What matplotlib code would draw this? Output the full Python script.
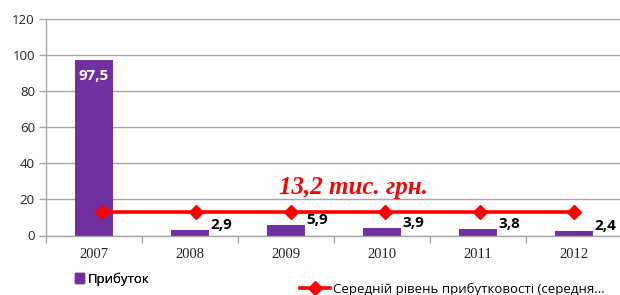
import matplotlib
matplotlib.use("Agg")
import matplotlib.pyplot as plt
from matplotlib.lines import Line2D
from matplotlib.patches import Patch
import numpy as np

years = ["2007", "2008", "2009", "2010", "2011", "2012"]
profit = [97.5, 2.9, 5.9, 3.9, 3.8, 2.4]
profit_labels = ["97,5", "2,9", "5,9", "3,9", "3,8", "2,4"]
average = [13.2, 13.2, 13.2, 13.2, 13.2, 13.2]
avg_text = "13,2 тис. грн."
legend_bar = "Прибуток"
legend_line = "Середній рівень прибутковості (середня…"
yticks = [0, 20, 40, 60, 80, 100, 120]

PURPLE = "#7030A0"
RED = "#FF0000"
GRID = "#A6A6A6"

fig = plt.figure(figsize=(6.2, 2.95), dpi=100)
ax = fig.add_axes([46/620, 1-235.5/295, 576/620, 216.5/295])

x = np.arange(len(years))
ax.bar(x, profit, width=0.39, color=PURPLE, zorder=2)

# line series (secondary-like positioning)
xl = np.linspace(0.083, 5.0, len(years))
ax.plot(xl, average, color=RED, lw=2.6, marker="D", ms=7.5, zorder=3)

ax.set_xlim(-0.5, 5.5)
ax.set_ylim(0, 120)
ax.set_yticks(yticks)
ax.set_yticklabels([str(v) for v in yticks], fontfamily="Open Sans", fontsize=9.5, color="#222222")
ax.set_xticks(x)
ax.set_xticklabels(years, fontfamily="Liberation Serif", fontsize=10.5, color="#222222")
ax.set_xticks(np.arange(-0.5, 6.0, 1.0), minor=True)
ax.tick_params(axis="x", which="major", length=0, pad=9)
ax.tick_params(axis="x", which="minor", length=5, color=GRID, width=1)
ax.tick_params(axis="y", length=5, color=GRID, width=1, pad=3)

ax.grid(axis="y", color=GRID, lw=1, zorder=0)
for s in ["top", "right"]:
    ax.spines[s].set_visible(False)
ax.spines["left"].set_color(GRID)
ax.spines["bottom"].set_color(GRID)
ax.spines["left"].set_linewidth(1)
ax.spines["bottom"].set_linewidth(1)

# data labels
for i, (v, lab) in enumerate(zip(profit, profit_labels)):
    if v > 50:
        ax.text(i, v - 5, lab, ha="center", va="top", color="white",
                fontweight="bold", fontsize=11, fontfamily="Open Sans", zorder=4)
    else:
        ax.text(i + 0.21, v + 0.6, lab, ha="left", va="baseline", color="black",
                fontweight="bold", fontsize=11, fontfamily="Open Sans", zorder=4)

ax.text(2.7, 26.5, avg_text, ha="center", va="center", color=RED,
        fontsize=18, fontweight="bold", fontstyle="italic",
        fontfamily="Liberation Serif", zorder=4)

leg1 = fig.legend(handles=[Patch(color=PURPLE)], labels=[legend_bar],
                  loc="center left", bbox_to_anchor=(63/620, 1-279/295),
                  frameon=False, handlelength=0.7, handleheight=0.7,
                  handletextpad=0.3, prop={"family": "Open Sans", "size": 9.5})
leg2 = fig.legend(handles=[Line2D([], [], color=RED, lw=2.6, marker="D", ms=7.5)],
                  labels=[legend_line],
                  loc="center left", bbox_to_anchor=(288/620, 1-289/295),
                  frameon=False, handlelength=2.3, handletextpad=0.2,
                  prop={"family": "Open Sans", "size": 9.5})
fig.add_artist(leg1)

fig.savefig("out.png", dpi=100)
